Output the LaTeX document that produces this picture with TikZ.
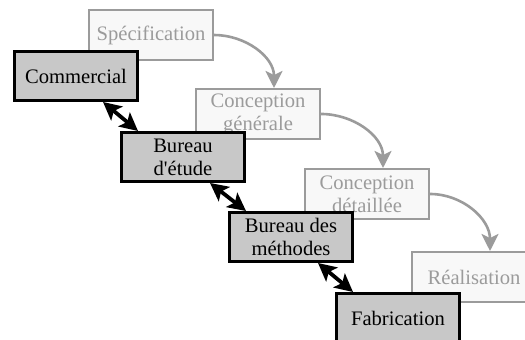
\documentclass[tikz,border=0pt]{standalone}
\usepackage{fontspec}
\setmainfont{Liberation Serif}
\usepackage{tikz}
\usetikzlibrary{arrows.meta}
\tikzset{>={Stealth[width=8.5pt,length=8.5pt,inset=2pt]}}
\definecolor{phaseGray}{RGB}{155, 155, 155}
\definecolor{phaseFill}{RGB}{248, 248, 248}
\definecolor{serviceGray}{RGB}{200, 200, 200}

\begin{document}
\begin{tikzpicture}[
    x = 0.5pt, y = 0.5pt,
    font = \fontsize{10.3}{11.5}\selectfont,
    phase/.style = {draw=phaseGray, line width=1pt, fill=phaseFill,
        text=phaseGray, minimum width=62pt, minimum height=25pt,
        inner sep=0pt, align=center, anchor=north west},
    service/.style = {draw, line width=1.5pt, fill=serviceGray,
        minimum width=61.5pt, minimum height=24.5pt,
        inner sep=0pt, align=center, anchor=north west},
    flow/.style = {->, draw=phaseGray, line width=1.3pt},
    link/.style = {{Stealth[width=9pt,length=9pt,inset=2pt]}-{Stealth[width=9pt,length=9pt,inset=2pt]},
        line width=1.9pt}
  ]
  \useasboundingbox (0,0) rectangle (525,-340);
  \clip (0,0) rectangle (525,-340);

  % phases du cycle
  \foreach \x/\y/\txt [count=\i] in {88/9/Spécification, 195/88/{Conception\\générale},
      304/168/{Conception\\détaillée}, 411/251/Réalisation}
  \node[phase] (phase\i) at (\x,-\y) {\txt};

  \foreach \i [evaluate=\i as \j using int(\i+1)] in {1,2,3}
  \draw[flow] (phase\i.east) to[out=0, in=90] ([xshift=8pt]phase\j.north);

  % services
  \foreach \x/\y/\txt [count=\i] in {13/50/Commercial, 120/131/{Bureau\\d\textquotesingle{}étude},
      228/211/{Bureau des\\méthodes}, 335/292/Fabrication}
  \node[service] (serv\i) at (\x,-\y) {\txt};

  \foreach \i [evaluate=\i as \j using int(\i+1)] in {1,2,3}
  \draw[link] ([xshift=45pt]serv\i.south west) -- ([xshift=9pt]serv\j.north west);
\end{tikzpicture}
\end{document}
